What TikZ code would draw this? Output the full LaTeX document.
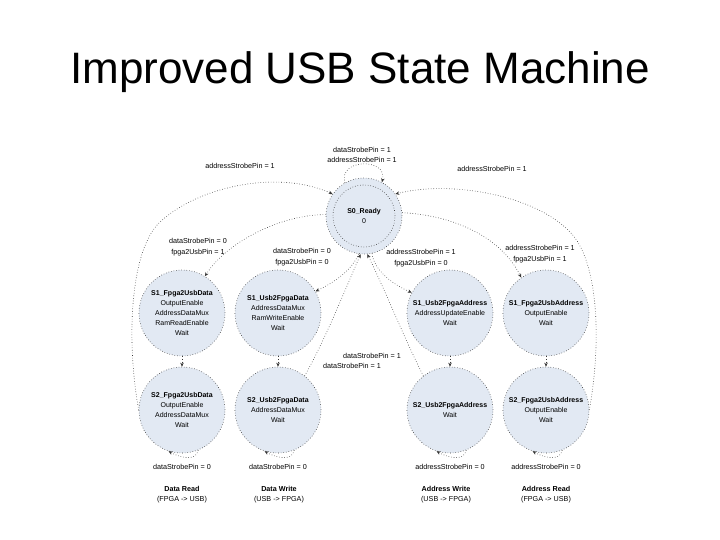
\documentclass[tikz,border=0pt]{standalone}
\usepackage{fontspec}
\setmainfont{Liberation Sans}
\usetikzlibrary{arrows.meta}
\definecolor{stfill}{RGB}{226,233,243}
\definecolor{edgec}{RGB}{55,55,55}
\tikzset{
  state/.style={circle, draw=edgec, dotted, fill=stfill, minimum size=86pt, inner sep=0pt, align=center, font=\fontsize{7}{10}\selectfont, line width=0.6pt},
  tr/.style={draw=edgec, dotted, line width=0.6pt, -{Stealth[length=4pt,width=3.5pt]}},
  lbl/.style={font=\fontsize{7.2}{10.5}\selectfont, align=center, inner sep=0pt},
  captxt/.style={font=\fontsize{7.2}{10}\selectfont, align=center, inner sep=0pt},
}
\begin{document}
\begin{tikzpicture}[x=1pt,y=-1pt]
\useasboundingbox (0,0) rectangle (720,540);
\node[anchor=base, font=\fontsize{44}{50}\selectfont, inner sep=0pt] (title) at (360,84) {Improved USB State Machine};

% states
\node[state, minimum size=76pt] (s0) at (364,216) {};
\node[circle, draw=edgec, dotted, line width=0.6pt, minimum size=62pt, inner sep=0pt, align=center, font=\fontsize{7}{10}\selectfont] (s0in) at (364,216) {\textbf{S0\_Ready}\\0};

\node[state] (a1) at (182,313) {\textbf{S1\_Fpga2UsbData}\\OutputEnable\\AddressDataMux\\RamReadEnable\\Wait};
\node[state] (b1) at (278,313) {\textbf{S1\_Usb2FpgaData}\\AddressDataMux\\RamWriteEnable\\Wait};
\node[state] (c1) at (450,313) {\textbf{S1\_Usb2FpgaAddress}\\AddressUpdateEnable\\Wait};
\node[state] (d1) at (546,313) {\textbf{S1\_Fpga2UsbAddress}\\OutputEnable\\Wait};

\node[state] (a2) at (182,410) {\textbf{S2\_Fpga2UsbData}\\OutputEnable\\AddressDataMux\\Wait};
\node[state] (b2) at (278,410) {\textbf{S2\_Usb2FpgaData}\\AddressDataMux\\Wait};
\node[state] (c2) at (450,410) {\textbf{S2\_Usb2FpgaAddress}\\Wait};
\node[state] (d2) at (546,410) {\textbf{S2\_Fpga2UsbAddress}\\OutputEnable\\Wait};

% S0 self loop
\draw[tr] (s0.120) .. controls (338,158) and (388,158) .. (s0.62);
\node[lbl] (l0) at (362,155) {dataStrobePin = 1\\addressStrobePin = 1};

% S0 -> S1
\draw[tr] (s0.178) .. controls (285,214) and (228,240) .. (a1.58);
\node[lbl] (l1) at (198,247) {dataStrobePin = 0\\fpga2UsbPin = 1};
\draw[tr] (s0.262) .. controls (352,270) and (335,282) .. (b1.30);
\node[lbl] (l2) at (302,257) {dataStrobePin = 0\\fpga2UsbPin = 0};
\draw[tr] (s0.282) .. controls (374,270) and (392,284) .. (c1.152);
\node[lbl] (l3) at (421,258) {addressStrobePin = 1\\fpga2UsbPin = 0};
\draw[tr] (s0.5) .. controls (450,215) and (500,235) .. (d1.125);
\node[lbl] (l4) at (540,254) {addressStrobePin = 1\\fpga2UsbPin = 1};

% S1 -> S2
\draw[tr] (a1.south) -- (a2.north);
\draw[tr] (b1.south) -- (b2.north);
\draw[tr] (c1.south) -- (c2.north);
\draw[tr] (d1.south) -- (d2.north);

% S2 -> S0
\draw[tr] (a2.180) .. controls (126,340) and (130,250) .. (160,222) .. controls (200,185) and (280,170) .. (s0.145);
\node[lbl] (l5) at (240,166) {addressStrobePin = 1};
\draw[tr] (d2.0) .. controls (602,340) and (598,260) .. (570,232) .. controls (535,195) and (450,180) .. (s0.35);
\node[lbl] (l6) at (492,169) {addressStrobePin = 1};
\draw[tr] (b2.52) .. controls (325,340) and (345,290) .. (s0.265);
\draw[tr] (c2.128) .. controls (405,340) and (385,290) .. (s0.275);
\node[lbl] (l7) at (372,356) {dataStrobePin = 1};
\node[lbl] (l8) at (352,366) {dataStrobePin = 1};

% S2 self loops
\draw[tr] (a2.-68) .. controls +(-2,12) and +(10,6) .. (a2.-108);
\node[lbl] (l9) at (182,467) {dataStrobePin = 0};
\draw[tr] (b2.-68) .. controls +(-2,12) and +(10,6) .. (b2.-108);
\node[lbl] (l10) at (278,467) {dataStrobePin = 0};
\draw[tr] (c2.-68) .. controls +(-2,12) and +(10,6) .. (c2.-108);
\node[lbl] (l11) at (450,467) {addressStrobePin = 0};
\draw[tr] (d2.-68) .. controls +(-2,12) and +(10,6) .. (d2.-108);
\node[lbl] (l12) at (546,467) {addressStrobePin = 0};

% captions
\node[captxt] (c_a) at (182,495) {\textbf{Data Read}\\(FPGA -> USB)};
\node[captxt] (c_b) at (279,495) {\textbf{Data Write}\\(USB -> FPGA)};
\node[captxt] (c_c) at (446,495) {\textbf{Address Write}\\(USB -> FPGA)};
\node[captxt] (c_d) at (546,495) {\textbf{Address Read}\\(FPGA -> USB)};
\end{tikzpicture}
\end{document}
